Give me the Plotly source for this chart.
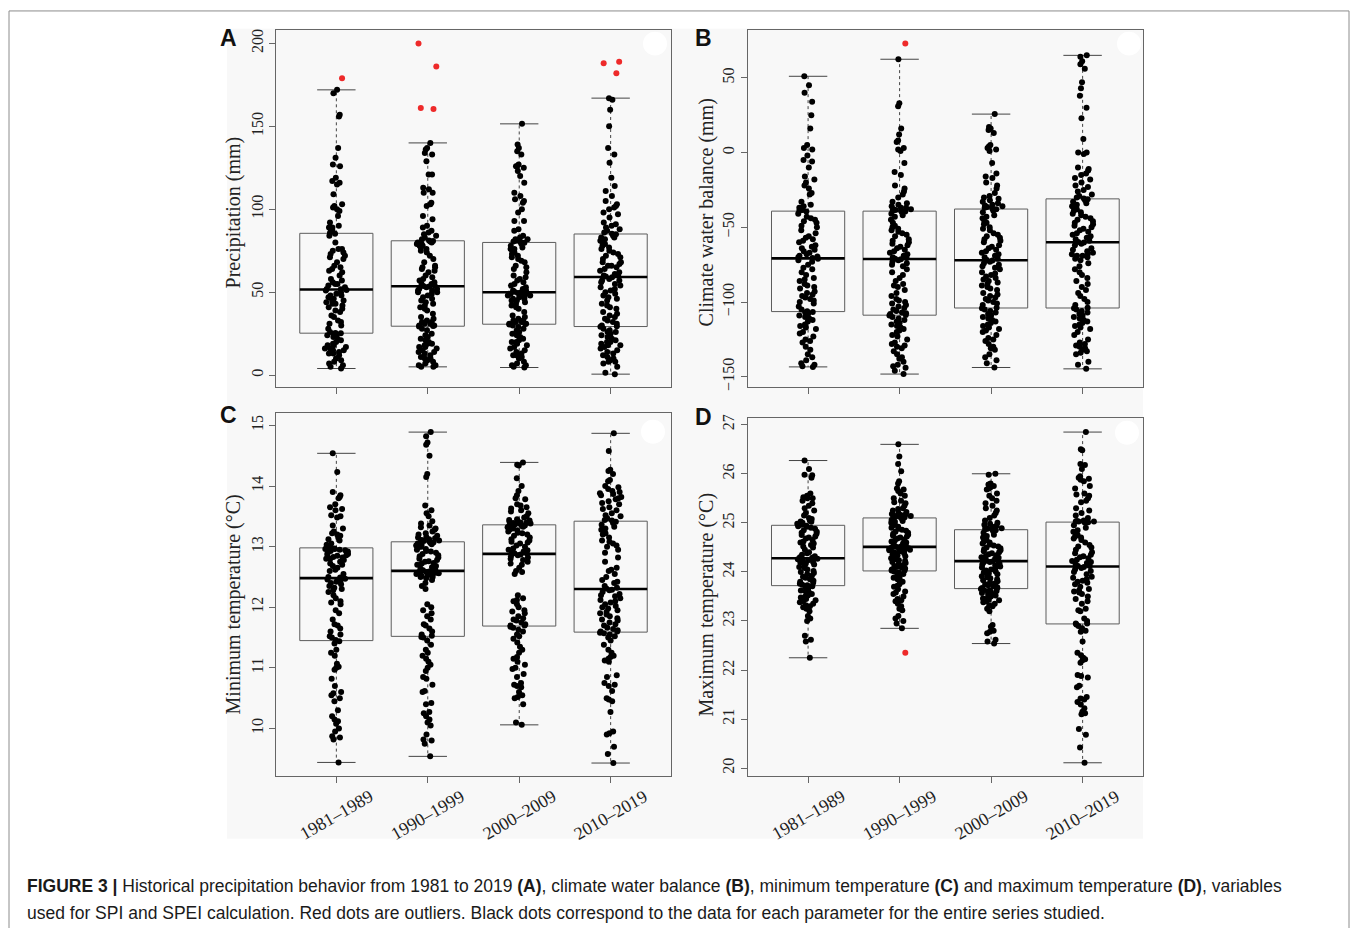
import plotly.graph_objects as go

W, H = 1355, 928

decades = ["1981–1989", "1990–1999", "2000–2009", "2010–2019"]

# ---------------- Panel A: Precipitation (mm) ----------------
precip_1981_1989 = [4, 5, 6, 7, 8, 9, 10, 12, 13, 13, 14, 15, 15, 16, 16, 17, 18, 18, 19, 20, 21, 22, 23, 24, 24, 25,
                    25.2, 25.4,
                    26, 28, 30, 31, 32, 33, 35, 36, 38, 39, 40, 41, 42, 43, 43, 44, 45, 45, 46, 47, 48, 48, 49, 50, 51,
                    51.4, 51.8,
                    52, 53, 54, 55, 55, 56, 57, 58, 60, 62, 63, 64, 65, 66, 68, 70, 71, 72, 73, 74, 75, 76, 76, 80, 84,
                    85.3, 85.7,
                    87, 88, 89, 89, 90, 92, 96, 99, 100, 101, 102, 103, 109, 115, 116, 117, 119, 126, 127, 131, 137,
                    156, 157, 170, 172, 179]
precip_1990_1999 = [5, 5, 6, 6, 7, 8, 9, 10, 10, 11, 12, 13, 14, 14, 15, 16, 17, 17, 18, 19, 19, 20, 21, 22, 23, 24, 25,
                    27, 28,
                    29.3, 29.7,
                    30, 30, 31, 31, 32, 32, 33, 34, 35, 37, 39, 40, 41, 42, 43, 44, 45, 46, 47, 48, 49, 50, 50, 51, 51,
                    52, 52, 53,
                    53.4, 53.8,
                    54, 55, 55, 56, 57, 58, 59, 60, 62, 63, 64, 65, 65, 66, 68, 70, 72, 74, 75, 76, 77, 78, 78, 79, 79,
                    80, 80, 80.5,
                    80.8, 81.2,
                    82, 83, 84, 85, 86, 87, 89, 90, 94, 96, 102, 103, 104, 110, 110, 112, 113, 121, 121, 129, 133, 134,
                    136, 137, 140, 160.5, 161, 186, 200]
precip_2000_2009 = [4.6, 5, 6, 6, 7, 8, 10, 11, 12, 12, 13, 14, 15, 16, 17, 18, 19, 20, 20, 21, 22, 23, 24, 25, 26, 27,
                    28, 29, 30,
                    30.5, 30.9,
                    31, 31, 32, 32, 33, 33, 34, 35, 36, 38, 40, 41, 42, 43, 44, 45, 45, 46, 46, 47, 47, 48, 48, 48, 49,
                    49, 49, 49.5,
                    49.8, 50.2,
                    51, 51, 52, 53, 54, 55, 56, 57, 58, 59, 60, 62, 64, 65, 66, 68, 69, 70, 71, 72, 73, 74, 75, 76, 76,
                    77, 78, 79,
                    79.8, 80.2,
                    80.5, 81, 82, 82, 83, 84, 87, 88, 93, 93, 98, 100, 104, 105, 106, 108, 110, 116, 120, 123, 125, 126,
                    126, 127, 133, 135, 137, 139, 151.5]
precip_2010_2019 = [0.6, 1.5, 5, 7, 8, 8, 9, 10, 11, 12, 13, 14, 15, 16, 17, 18, 18, 19, 20, 20, 21, 22, 23, 24, 25, 26,
                    26, 27, 28,
                    29.1, 29.5,
                    30, 31, 32, 33, 34, 35, 36, 37, 38, 40, 41, 42, 43, 45, 46, 47, 48, 49, 50, 51, 52, 53, 54, 55, 56,
                    57, 57, 58,
                    59.0, 59.4,
                    60, 60, 61, 62, 63, 64, 65, 66, 66, 67, 68, 68, 70, 71, 72, 73, 74, 75, 76, 77, 78, 79, 80, 81, 82,
                    83, 83, 84,
                    84.9, 85.3,
                    86, 87, 88, 89, 90, 91, 92, 95, 97, 98, 100, 101, 102, 103, 105, 108, 111, 114, 119, 128, 133, 137,
                    150, 160, 166, 167, 182, 188, 189]

# ---------------- Panel B: Climate water balance (mm) ----------------
cwb_1981_1989 = [-143.4, -143, -142, -141, -139, -137, -135, -132, -130, -127, -126, -125, -123, -121, -120, -118,
                 -117, -116, -115, -113, -112, -111, -110, -109, -108, -107,
                 -106.6, -106.2,
                 -105, -103, -101, -100, -99, -98, -97, -96, -95, -94, -93, -91, -90, -89, -88, -86, -85, -84, -82,
                 -80, -78, -77, -75, -73, -72,
                 -71.0, -70.6,
                 -70, -69.5, -69, -68, -67, -66, -65, -64, -63, -62, -60, -59, -58, -57, -56, -54, -52, -50, -49,
                 -47, -46, -45, -44, -43, -41,
                 -39.4, -39.0,
                 -38.5, -38, -37, -36, -35, -33, -28, -27, -24, -22, -20, -18, -16, -10, -6, -5, -2, 2, 3, 5, 16,
                 25, 34, 40, 45, 51]
cwb_1990_1999 = [-148.2, -146, -144, -143, -142, -140, -138, -137, -135, -133, -131, -130, -129, -128, -127, -125, -123,
                 -122, -120, -119, -118, -117, -116, -115, -114, -113, -112, -111, -110,
                 -109.0, -108.6,
                 -108, -107.5, -107, -106, -105, -104, -103, -102, -101, -100, -99, -98, -96, -94, -92, -90, -89,
                 -88, -86, -84, -82, -80, -78, -76, -75, -74, -73, -72,
                 -71.4, -71.0,
                 -70.5, -70, -69, -68, -67, -66, -65, -64, -63, -62, -61, -60, -59, -58, -56, -55, -54, -53, -52,
                 -51, -50, -49, -47, -45, -43, -42, -41, -40,
                 -39.4, -39.0,
                 -38.8, -38.5, -38, -38, -37, -37, -36, -35, -34, -33, -30, -28, -26, -24, -22, -15, -13, -7, 1, 2,
                 3, 7, 8, 12, 16, 31, 33, 62.4, 73]
cwb_2000_2009 = [-143.8, -141, -139, -137, -135, -132, -131, -130, -128, -126, -125, -124, -122, -120, -119, -118, -117,
                 -116, -115, -114, -113, -112, -111, -110, -109, -108, -107, -106, -105,
                 -104.2, -103.8,
                 -102, -101, -100, -99, -98, -97, -96, -95, -94, -92, -91, -90, -89, -88, -87, -86, -85, -84, -83,
                 -82, -81, -80, -78, -77, -76, -75, -74, -73,
                 -72.3, -71.9,
                 -71, -70, -69, -68, -67, -66, -65, -64, -63, -62, -60, -59, -58, -57, -56, -55, -54, -52, -51, -50,
                 -48, -47, -46, -44, -43, -42, -40, -39,
                 -38.0, -37.6,
                 -37, -36.5, -36, -35.5, -35, -34, -33, -32, -31, -30, -29, -27, -24, -22, -20, -17, -16, -14, -7, 1,
                 2, 3, 4, 5, 13, 15, 16, 17, 25.7]
cwb_2010_2019 = [-144.7, -142, -140, -135, -134, -133, -132, -131, -130, -129, -128, -127, -125, -122, -120, -118, -117,
                 -116, -115, -114, -113, -112, -111, -110, -109, -108, -107, -106, -105,
                 -104.2, -103.8,
                 -102, -100, -98, -96, -94, -92, -90, -88, -86, -84, -82, -80, -78, -76, -74, -72, -71, -70, -69, -69,
                 -68, -68, -67, -66, -65, -64, -62, -61,
                 -60.2, -59.8,
                 -59, -58, -57, -56, -55, -54, -53, -52, -51, -50, -49, -48, -47, -46, -45, -44, -43, -42, -41, -40,
                 -39, -38, -37, -36, -35, -34, -33, -32,
                 -31.2, -30.8,
                 -30, -29, -28, -26, -25, -23, -22, -20, -18, -17, -15, -14, -12, -11, -10, -1, 0, 0, 9, 23, 30, 38,
                 43, 47, 56, 59, 61, 64, 65]

# ---------------- Panel C: Minimum temperature (°C) ----------------
tmin_1981_1989 = [9.44, 9.82, 9.85, 9.87, 9.95, 10.0, 10.08, 10.12, 10.15, 10.2, 10.3, 10.45, 10.5, 10.55, 10.58, 10.6,
                  10.7, 10.82, 10.97, 11.0, 11.02, 11.07, 11.2, 11.25, 11.3, 11.4,
                  11.44, 11.46,
                  11.5, 11.52, 11.55, 11.6, 11.65, 11.7, 11.72, 11.8, 11.9, 11.95, 12.05, 12.08, 12.1, 12.15, 12.2,
                  12.25, 12.28, 12.3, 12.32, 12.35, 12.38, 12.4, 12.42, 12.44, 12.46,
                  12.47, 12.49,
                  12.5, 12.55, 12.6, 12.62, 12.65, 12.68, 12.7, 12.72, 12.75, 12.78, 12.8, 12.8, 12.82, 12.83, 12.85,
                  12.86, 12.87, 12.88, 12.9, 12.92, 12.93, 12.94, 12.95, 12.96, 12.96,
                  12.97, 12.99,
                  13.0, 13.01, 13.03, 13.05, 13.1, 13.12, 13.15, 13.18, 13.2, 13.22, 13.25, 13.3, 13.35, 13.48, 13.5,
                  13.52, 13.6, 13.62, 13.65, 13.7, 13.8, 13.82, 13.85, 13.9, 14.23, 14.54]
tmin_1990_1999 = [9.54, 9.75, 9.8, 9.82, 9.9, 10.05, 10.1, 10.15, 10.2, 10.25, 10.27, 10.4, 10.42, 10.6, 10.62, 10.72,
                  10.82, 10.85, 10.95, 11.0, 11.05, 11.1, 11.15, 11.2, 11.25, 11.3, 11.38, 11.45, 11.5,
                  11.51, 11.53,
                  11.55, 11.6, 11.65, 11.7, 11.72, 11.8, 11.85, 11.9, 11.95, 12.0, 12.05, 12.3, 12.35, 12.4, 12.45,
                  12.48, 12.5, 12.5, 12.52, 12.53, 12.54, 12.55, 12.56, 12.56, 12.57, 12.57, 12.58, 12.58,
                  12.59, 12.61,
                  12.62, 12.64, 12.66, 12.68, 12.7, 12.72, 12.73, 12.75, 12.76, 12.78, 12.8, 12.82, 12.84, 12.86,
                  12.88, 12.9, 12.92, 12.93, 12.95, 12.96, 12.98, 13.0, 13.01, 13.02, 13.03, 13.04, 13.05, 13.06,
                  13.07, 13.09,
                  13.09, 13.095, 13.1, 13.11, 13.12, 13.14, 13.15, 13.16, 13.18, 13.2, 13.22, 13.25, 13.28, 13.3,
                  13.32, 13.35, 13.38, 13.42, 13.5, 13.55, 13.6, 13.68, 14.15, 14.2, 14.5, 14.68, 14.72, 14.82, 14.89]
tmin_2000_2009 = [10.06, 10.1, 10.4, 10.5, 10.52, 10.55, 10.6, 10.68, 10.7, 10.72, 10.75, 10.85, 10.9, 10.98, 11.0,
                  11.05, 11.1, 11.15, 11.18, 11.25, 11.3, 11.35, 11.42, 11.48, 11.52, 11.55, 11.6, 11.63, 11.66,
                  11.68, 11.70,
                  11.7, 11.72, 11.75, 11.78, 11.8, 11.82, 11.85, 11.9, 11.93, 11.95, 12.0, 12.05, 12.1, 12.12, 12.15,
                  12.2, 12.55, 12.58, 12.6, 12.65, 12.7, 12.72, 12.75, 12.78, 12.8, 12.82, 12.84, 12.86,
                  12.87, 12.89,
                  12.89, 12.9, 12.92, 12.94, 12.95, 12.97, 13.0, 13.02, 13.05, 13.07, 13.08, 13.1, 13.12, 13.15,
                  13.18, 13.2, 13.22, 13.23, 13.25, 13.27, 13.28, 13.3, 13.31, 13.32, 13.33, 13.33, 13.34, 13.34,
                  13.35, 13.37,
                  13.37, 13.37, 13.38, 13.39, 13.4, 13.4, 13.41, 13.42, 13.43, 13.44, 13.45, 13.48, 13.5, 13.55,
                  13.58, 13.6, 13.63, 13.65, 13.68, 13.7, 13.78, 13.8, 13.85, 13.92, 14.0, 14.13, 14.34, 14.35, 14.39]
tmin_2010_2019 = [9.43, 9.58, 9.7, 9.9, 9.92, 9.95, 10.27, 10.45, 10.48, 10.5, 10.62, 10.7, 10.72, 10.75, 10.85, 10.88,
                  11.1, 11.12, 11.15, 11.18, 11.2, 11.25, 11.3, 11.38, 11.45, 11.5, 11.52, 11.55, 11.57,
                  11.58, 11.60,
                  11.6, 11.62, 11.64, 11.66, 11.7, 11.72, 11.75, 11.78, 11.8, 11.82, 11.85, 11.88, 11.9, 11.92, 11.95,
                  11.98, 12.0, 12.02, 12.05, 12.08, 12.1, 12.12, 12.15, 12.18, 12.2, 12.22, 12.25, 12.28,
                  12.29, 12.31,
                  12.32, 12.35, 12.4, 12.42, 12.45, 12.5, 12.55, 12.6, 12.62, 12.65, 12.75, 12.82, 12.9, 12.95, 13.0,
                  13.02, 13.05, 13.08, 13.1, 13.15, 13.2, 13.22, 13.25, 13.28, 13.3, 13.33, 13.36, 13.39,
                  13.41, 13.43,
                  13.44, 13.47, 13.5, 13.52, 13.55, 13.6, 13.62, 13.65, 13.7, 13.72, 13.75, 13.78, 13.8, 13.82, 13.85,
                  13.87, 13.88, 13.9, 13.92, 13.95, 13.98, 14.0, 14.08, 14.1, 14.2, 14.25, 14.27, 14.58, 14.87]

# ---------------- Panel D: Maximum temperature (°C) ----------------
tmax_1981_1989 = [22.25, 22.58, 22.62, 22.7, 23.0, 23.05, 23.1, 23.2, 23.25, 23.28, 23.3, 23.32, 23.35, 23.38, 23.4,
                  23.42, 23.45, 23.48, 23.5, 23.52, 23.55, 23.58, 23.6, 23.62, 23.65, 23.68,
                  23.71, 23.73,
                  23.74, 23.76, 23.78, 23.8, 23.82, 23.85, 23.88, 23.9, 23.92, 23.95, 23.98, 24.0, 24.02, 24.05, 24.08,
                  24.1, 24.12, 24.15, 24.17, 24.19, 24.2, 24.22, 24.24, 24.25, 24.26,
                  24.27, 24.29,
                  24.3, 24.32, 24.35, 24.38, 24.4, 24.45, 24.5, 24.52, 24.55, 24.58, 24.6, 24.62, 24.65, 24.68, 24.7,
                  24.72, 24.75, 24.78, 24.8, 24.82, 24.85, 24.88, 24.9, 24.92, 24.93,
                  24.94, 24.96,
                  24.96, 24.97, 24.98, 25.0, 25.02, 25.03, 25.05, 25.08, 25.1, 25.15, 25.2, 25.25, 25.3, 25.35, 25.4,
                  25.45, 25.5, 25.5, 25.52, 25.55, 25.6, 25.92, 25.97, 25.98, 26.1, 26.27]
tmax_1990_1999 = [22.35, 22.85, 22.95, 23.0, 23.05, 23.1, 23.22, 23.25, 23.3, 23.35, 23.4, 23.42, 23.45, 23.5, 23.55,
                  23.58, 23.6, 23.65, 23.7, 23.72, 23.75, 23.8, 23.82, 23.85, 23.88, 23.9, 23.93, 23.96, 23.99,
                  24.01, 24.03,
                  24.03, 24.05, 24.07, 24.09, 24.1, 24.12, 24.14, 24.16, 24.18, 24.2, 24.22, 24.24, 24.26, 24.28, 24.3,
                  24.32, 24.34, 24.36, 24.38, 24.4, 24.42, 24.43, 24.44, 24.45, 24.46, 24.47, 24.48, 24.49,
                  24.50, 24.52,
                  24.52, 24.54, 24.56, 24.58, 24.6, 24.62, 24.64, 24.66, 24.68, 24.7, 24.72, 24.74, 24.76, 24.78, 24.8,
                  24.82, 24.84, 24.86, 24.88, 24.9, 24.92, 24.94, 24.96, 24.98, 25.0, 25.02, 25.04, 25.06,
                  25.09, 25.11,
                  25.11, 25.12, 25.13, 25.14, 25.15, 25.16, 25.17, 25.18, 25.2, 25.22, 25.25, 25.28, 25.3, 25.35,
                  25.4, 25.42, 25.45, 25.5, 25.55, 25.6, 25.65, 25.68, 25.7, 25.8, 25.85, 26.05, 26.2, 26.35, 26.6]
tmax_2000_2009 = [22.54, 22.58, 22.62, 22.75, 22.78, 22.8, 22.88, 22.92, 23.2, 23.25, 23.3, 23.32, 23.35, 23.38, 23.4,
                  23.42, 23.44, 23.46, 23.48, 23.5, 23.52, 23.54, 23.55, 23.57, 23.58, 23.6, 23.61, 23.62, 23.63,
                  23.65, 23.67,
                  23.67, 23.69, 23.71, 23.73, 23.75, 23.77, 23.79, 23.81, 23.83, 23.85, 23.87, 23.89, 23.91, 23.93,
                  23.95, 23.97, 23.99, 24.01, 24.03, 24.05, 24.07, 24.09, 24.11, 24.13, 24.15, 24.17, 24.19, 24.2,
                  24.21, 24.23,
                  24.23, 24.25, 24.27, 24.29, 24.3, 24.32, 24.34, 24.36, 24.38, 24.4, 24.42, 24.44, 24.46, 24.48, 24.5,
                  24.52, 24.54, 24.56, 24.58, 24.6, 24.62, 24.65, 24.68, 24.7, 24.73, 24.76, 24.8, 24.83,
                  24.85, 24.87,
                  24.87, 24.88, 24.89, 24.9, 24.92, 24.94, 24.96, 24.98, 25.0, 25.05, 25.1, 25.15, 25.2, 25.25, 25.3,
                  25.35, 25.4, 25.45, 25.5, 25.55, 25.6, 25.68, 25.7, 25.72, 25.75, 25.78, 25.8, 25.98, 26.0]
tmax_2010_2019 = [20.11, 20.42, 20.68, 20.8, 21.1, 21.12, 21.15, 21.22, 21.3, 21.35, 21.4, 21.42, 21.45, 21.65, 21.68,
                  21.85, 21.88, 21.9, 22.15, 22.2, 22.22, 22.25, 22.3, 22.35, 22.58, 22.78, 22.8, 22.85, 22.9,
                  22.93, 22.95,
                  22.95, 23.0, 23.05, 23.2, 23.22, 23.25, 23.35, 23.4, 23.45, 23.5, 23.55, 23.58, 23.6, 23.62, 23.65,
                  23.7, 23.75, 23.78, 23.8, 23.82, 23.85, 23.88, 23.9, 23.95, 24.0, 24.02, 24.05, 24.08,
                  24.10, 24.12,
                  24.12, 24.15, 24.18, 24.2, 24.22, 24.25, 24.28, 24.3, 24.32, 24.35, 24.38, 24.4, 24.45, 24.5, 24.52,
                  24.55, 24.6, 24.65, 24.68, 24.7, 24.72, 24.75, 24.8, 24.82, 24.85, 24.9, 24.95, 25.0,
                  25.01, 25.03,
                  25.02, 25.03, 25.03, 25.04, 25.05, 25.1, 25.15, 25.2, 25.25, 25.3, 25.42, 25.45, 25.5, 25.55, 25.58,
                  25.6, 25.7, 25.75, 25.85, 25.88, 25.9, 25.92, 25.95, 26.1, 26.18, 26.2, 26.48, 26.5, 26.85]

panels = [
    dict(groups=[precip_1981_1989, precip_1990_1999, precip_2000_2009, precip_2010_2019],
         title="Precipitation (mm)", ticks=[0, 50, 100, 150, 200], letter="A"),
    dict(groups=[cwb_1981_1989, cwb_1990_1999, cwb_2000_2009, cwb_2010_2019],
         title="Climate water balance (mm)", ticks=[-150, -100, -50, 0, 50], letter="B"),
    dict(groups=[tmin_1981_1989, tmin_1990_1999, tmin_2000_2009, tmin_2010_2019],
         title="Minimum temperature (°C)", ticks=[10, 11, 12, 13, 14, 15], letter="C"),
    dict(groups=[tmax_1981_1989, tmax_1990_1999, tmax_2000_2009, tmax_2010_2019],
         title="Maximum temperature (°C)", ticks=[20, 21, 22, 23, 24, 25, 26, 27], letter="D"),
]

# ---------------- layout geometry (pixels) ----------------
geo = [
    dict(x0=276, x1=671, y0=27, y1=387, yr=[-7.2, 208.2], title_x=233, title_y=211, lx=229, ly=35),
    dict(x0=747.7, x1=1143, y0=27, y1=387, yr=[-156.9, 82.1], title_x=706, title_y=211, lx=703, ly=35),
    dict(x0=276, x1=671, y0=413, y1=779, yr=[9.214, 15.207], title_x=233, title_y=606, lx=229, ly=415),
    dict(x0=747.7, x1=1143, y0=418, y1=779, yr=[19.838, 27.14], title_x=706, title_y=606, lx=703, ly=417),
]


def fx(px):
    return px / W


def fy(py):
    return 1 - py / H


def box_stats(vals):
    x = sorted(vals)
    n = len(x)
    n4 = ((n + 3) // 2) / 2.0
    d = [1, n4, (n + 1) / 2.0, n + 1 - n4, n]

    def at(p):
        lo = int(p // 1)
        hi = int(-(-p // 1))
        return 0.5 * (x[lo - 1] + x[hi - 1])

    _, q1, med, q3, _ = [at(p) for p in d]
    iqr = q3 - q1
    lof, upf = q1 - 1.5 * iqr, q3 + 1.5 * iqr
    inl = [v for v in vals if lof <= v <= upf]
    out = [v for v in vals if v < lof or v > upf]
    return q1, med, q3, min(inl), max(inl), inl, out


fig = go.Figure()
shapes = []
annotations = []
serif = "Liberation Serif"
sans = "Liberation Sans"
line_col = "#5c5c5c"

for k, (p, g) in enumerate(zip(panels, geo)):
    sfx = "" if k == 0 else str(k + 1)
    xa, ya = "x" + sfx, "y" + sfx
    for i, vals in enumerate(p["groups"]):
        pos = i + 1
        q1, med, q3, lo, hi, inl, out = box_stats(vals)
        common = dict(xref=xa, yref=ya, layer="below")
        shapes.append(dict(type="rect", x0=pos - 0.4, x1=pos + 0.4, y0=q1, y1=q3,
                           line=dict(color=line_col, width=1), **common))
        shapes.append(dict(type="line", x0=pos - 0.4, x1=pos + 0.4, y0=med, y1=med,
                           line=dict(color="#000000", width=2.6), **common))
        for a, b in ((q3, hi), (q1, lo)):
            shapes.append(dict(type="line", x0=pos, x1=pos, y0=a, y1=b,
                               line=dict(color="#444444", width=1, dash="dot"), **common))
            shapes.append(dict(type="line", x0=pos - 0.21, x1=pos + 0.21, y0=b, y1=b,
                               line=dict(color="#444444", width=1), **common))
        fig.add_trace(go.Box(x=[pos] * len(inl), y=inl, xaxis=xa, yaxis=ya,
                             boxpoints="all", jitter=0.32, pointpos=0, width=0.8,
                             fillcolor="rgba(0,0,0,0)", line=dict(width=0, color="rgba(0,0,0,0)"),
                             marker=dict(color="#000000", size=6, line=dict(width=0)),
                             showlegend=False, hoverinfo="y"))
        if out:
            fig.add_trace(go.Box(x=[pos] * len(out), y=out, xaxis=xa, yaxis=ya,
                                 boxpoints="all", jitter=0.3, pointpos=0, width=0.8,
                                 fillcolor="rgba(0,0,0,0)", line=dict(width=0, color="rgba(0,0,0,0)"),
                                 marker=dict(color="#ee2a2a", size=6, line=dict(width=0)),
                                 showlegend=False, hoverinfo="y"))

    axis_common = dict(showline=True, mirror=True, linecolor="#666666", linewidth=1,
                       ticks="outside", ticklen=6, tickcolor="#666666", showgrid=False, zeroline=False)
    fig.update_layout(**{
        "xaxis" + sfx: dict(domain=[fx(g["x0"]), fx(g["x1"])], anchor=ya, range=[0.34, 4.66],
                            tickvals=[1, 2, 3, 4], ticktext=["", "", "", ""], fixedrange=True, **axis_common),
        "yaxis" + sfx: dict(domain=[fy(g["y1"]), fy(g["y0"])], anchor=xa, range=g["yr"],
                            tickvals=p["ticks"], tickangle=-90,
                            tickfont=dict(family=serif, size=16, color="#222222"), **axis_common),
    })
    annotations.append(dict(x=fx(g["title_x"]), y=fy(g["title_y"]), xref="paper", yref="paper",
                            text=p["title"], textangle=-90, showarrow=False,
                            font=dict(family=serif, size=20, color="#222222"),
                            xanchor="center", yanchor="middle"))
    annotations.append(dict(x=fx(g["lx"]), y=fy(g["ly"]), xref="paper", yref="paper",
                            text="<b>" + p["letter"] + "</b>", showarrow=False,
                            font=dict(family=sans, size=23, color="#111111"),
                            xanchor="center", yanchor="middle"))
    if k >= 2:
        for i, lab in enumerate(decades):
            annotations.append(dict(x=i + 1, y=fy(818), xref=xa, yref="paper", text=lab,
                                    textangle=-30, showarrow=False,
                                    font=dict(family=serif, size=18, color="#222222"),
                                    xanchor="center", yanchor="middle"))

# background panel region and outer frame
shapes.insert(0, dict(type="rect", xref="paper", yref="paper", x0=fx(227), x1=fx(1143), y0=fy(842), y1=fy(26),
                      fillcolor="#f8f8f8", line=dict(width=0), layer="below"))
shapes.append(dict(type="rect", xref="paper", yref="paper", x0=fx(9), x1=fx(1349), y0=fy(940), y1=fy(8),
                   line=dict(color="#8c8c8c", width=1), fillcolor="rgba(0,0,0,0)", layer="above"))
# soft white spots in the top-right corners of the panels
for cx, cy in ((655, 41), (1129, 41), (653, 432), (1127, 433)):
    shapes.append(dict(type="circle", xref="paper", yref="paper", x0=fx(cx - 12), x1=fx(cx + 12),
                       y0=fy(cy + 12), y1=fy(cy - 12), fillcolor="#ffffff", line=dict(width=0), layer="above"))

cap1 = ("<b>FIGURE 3 |</b> Historical precipitation behavior from 1981 to 2019 <b>(A)</b>, climate water balance "
        "<b>(B)</b>, minimum temperature <b>(C)</b> and maximum temperature <b>(D)</b>, variables")
cap2 = ("used for SPI and SPEI calculation. Red dots are outliers. Black dots correspond to the data for each "
        "parameter for the entire series studied.")
for txt, yy in ((cap1, 890), (cap2, 917)):
    annotations.append(dict(x=fx(25), y=fy(yy), xref="paper", yref="paper", text=txt, showarrow=False,
                            font=dict(family=sans, size=17.5, color="#1a1a1a"),
                            xanchor="left", yanchor="middle", align="left"))

fig.update_layout(width=W, height=H, autosize=False, margin=dict(l=0, r=0, t=0, b=0),
                  paper_bgcolor="#ffffff", plot_bgcolor="#f8f8f8", boxmode="overlay",
                  shapes=shapes, annotations=annotations, showlegend=False)

fig.write_html("out.html", config={"displayModeBar": False},
               post_script="document.body.style.margin='0';document.body.style.overflow='hidden';")
